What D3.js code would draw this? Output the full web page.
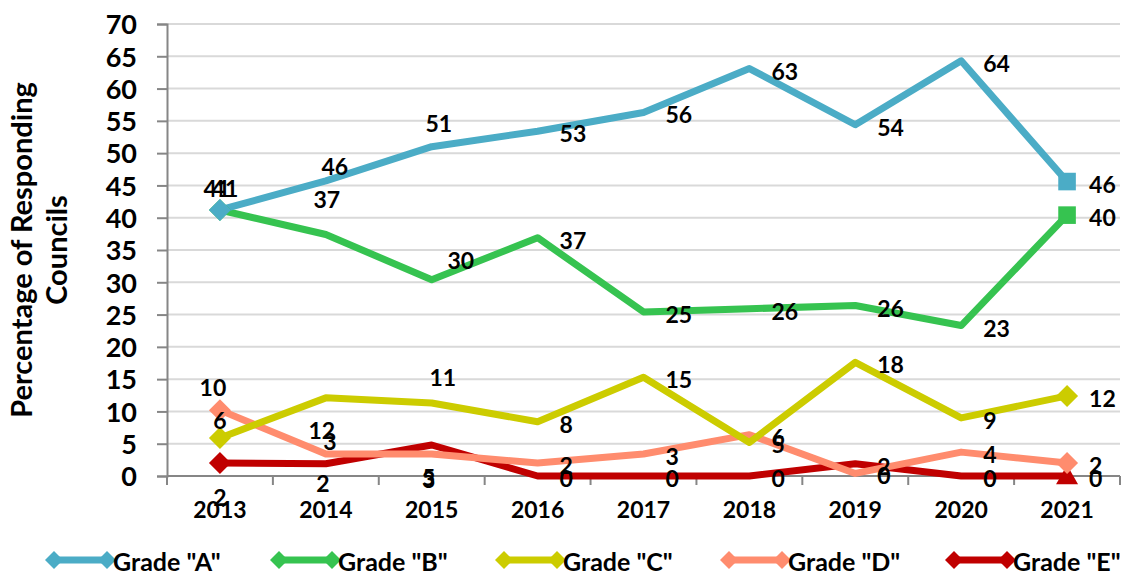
<!DOCTYPE html>
<html>
<head>
<meta charset="utf-8">
<script src="https://cdn.jsdelivr.net/npm/d3@7"></script>
<style>
  body { margin: 0; background: #fff; }
  text { font-family: Lato, "Open Sans", sans-serif; font-weight: bold; fill: #000; }
</style>
</head>
<body>
<svg id="chart" width="1123" height="571"></svg>
<script>
// categories and values
var years = ["2013", "2014", "2015", "2016", "2017", "2018", "2019", "2020", "2021"];
var gradeA = [41.2, 45.7, 51.0, 53.4, 56.3, 63.1, 54.4, 64.3, 45.6];
var gradeB = [41.2, 37.4, 30.4, 36.9, 25.4, 25.9, 26.4, 23.3, 40.4];
var gradeC = [5.9, 12.1, 11.3, 8.4, 15.3, 5.2, 17.6, 9.0, 12.4];
var gradeD = [10.2, 3.4, 3.4, 2.0, 3.4, 6.4, 0.4, 3.7, 2.0];
var gradeE = [2.0, 1.9, 4.8, 0, 0, 0, 1.9, 0, 0];
var yTicks = [0, 5, 10, 15, 20, 25, 30, 35, 40, 45, 50, 55, 60, 65, 70];

var series = [
    { name: 'Grade "A"', values: gradeA, color: "#4bacc6", end: "square" },
    { name: 'Grade "B"', values: gradeB, color: "#36c350", end: "square" },
    { name: 'Grade "C"', values: gradeC, color: "#cccc00", end: "diamond" },
    { name: 'Grade "D"', values: gradeD, color: "#ff8c6e", end: "diamond" },
    { name: 'Grade "E"', values: gradeE, color: "#c00000", end: "triangle" }
];

// hand placed labels (centre offset from point), the rest sit on the right
var labelNudge = [
    { 0: [-3, -22], 1: [9, -15], 2: [7, -24] },
    { 0: [5, -22], 1: [1, -36], 2: [29, -20] },
    { 0: [0, -18], 1: [-4, 32], 2: [11, -26] },
    { 0: [-7, -23], 1: [4, -13], 2: [-3, 25] },
    { 0: [0, 34], 1: [-3, 19], 2: [-3, 32] }
];

var svg = d3.select("#chart");
var plotL = 167, plotR = 1120, plotT = 24, plotB = 476;

var x = d3.scaleBand().domain(years).range([plotL, plotR]);
var y = d3.scaleLinear().domain([0, 70]).range([plotB, plotT]);
var cx = function (d, i) { return x(years[i]) + x.bandwidth() / 2; };

// grid
svg.append("g")
    .selectAll("line")
    .data(yTicks.slice(1))
    .join("line")
    .attr("x1", plotL).attr("x2", plotR)
    .attr("y1", function (d) { return y(d); })
    .attr("y2", function (d) { return y(d); })
    .attr("stroke", "#d9d9d9")
    .attr("stroke-width", 2);

// y axis
var yAxis = svg.append("g")
    .attr("transform", "translate(" + plotL + ",0)")
    .call(d3.axisLeft(y).tickValues(yTicks).tickSize(10).tickPadding(20));
yAxis.selectAll("text").style("font-size", "27px").attr("dy", "0.36em");

// x axis
var xAxis = svg.append("g")
    .attr("transform", "translate(0," + plotB + ")")
    .call(d3.axisBottom(x).tickSize(0).tickPadding(26));
xAxis.selectAll("text").style("font-size", "23px");
xAxis.append("g")
    .selectAll("line")
    .data(d3.range(years.length + 1))
    .join("line")
    .attr("x1", function (i) { return plotL + i * x.bandwidth(); })
    .attr("x2", function (i) { return plotL + i * x.bandwidth(); })
    .attr("y1", 0).attr("y2", 9)
    .attr("stroke", "#868686").attr("stroke-width", 2);

[yAxis, xAxis].forEach(function (g) {
    g.select(".domain").attr("stroke", "#868686").attr("stroke-width", 2);
    g.selectAll(".tick line").attr("stroke", "#868686").attr("stroke-width", 2);
});
xAxis.select(".domain").attr("d", "M" + plotL + ",0H" + plotR);

// axis title
var title = svg.append("text")
    .attr("transform", "translate(44,250) rotate(-90)")
    .attr("text-anchor", "middle")
    .style("font-size", "29px");
title.append("tspan").attr("x", 0).attr("dy", "-0.4em").text("Percentage of Responding");
title.append("tspan").attr("x", 0).attr("dy", "1.2em").text("Councils");

function marker(type, r) {
    if (type === "square") return "M" + (-r * 0.8) + "," + (-r * 0.8) + "h" + (r * 1.6) + "v" + (r * 1.6) + "h" + (-r * 1.6) + "Z";
    if (type === "triangle") return "M0," + (-r) + "L" + r + "," + (r * 0.75) + "L" + (-r) + "," + (r * 0.75) + "Z";
    return "M0," + (-r) + "L" + r + ",0L0," + r + "L" + (-r) + ",0Z";
}

var line = d3.line()
    .x(cx)
    .y(function (d) { return y(d); });

// lines back to front (E under A)
var order = [4, 3, 2, 1, 0];
order.forEach(function (k) {
    var s = series[k];
    svg.append("path")
        .datum(s.values)
        .attr("fill", "none")
        .attr("stroke", s.color)
        .attr("stroke-width", 7)
        .attr("stroke-linejoin", "round")
        .attr("d", line);
});
order.forEach(function (k) {
    var s = series[k];
    var n = s.values.length - 1;
    svg.append("path")
        .attr("d", marker("diamond", 11))
        .attr("transform", "translate(" + cx(0, 0) + "," + y(s.values[0]) + ")")
        .attr("fill", s.color);
    svg.append("path")
        .attr("d", marker(s.end, 11))
        .attr("transform", "translate(" + cx(0, n) + "," + y(s.values[n]) + ")")
        .attr("fill", s.color);
});

// data labels
series.forEach(function (s, k) {
    svg.append("g")
        .selectAll("text")
        .data(s.values)
        .join("text")
        .style("font-size", "23px")
        .attr("dominant-baseline", "central")
        .each(function (d, i) {
            var t = d3.select(this);
            var nudge = labelNudge[k][i];
            if (nudge) {
                t.attr("text-anchor", "middle")
                    .attr("x", cx(d, i) + nudge[0])
                    .attr("y", y(d) + nudge[1]);
            } else {
                t.attr("text-anchor", "start")
                    .attr("x", cx(d, i) + 22)
                    .attr("y", y(d) + 2);
            }
        })
        .text(function (d) { return Math.round(d); });
});

// legend
var legend = svg.append("g").attr("transform", "translate(45,560)");
series.forEach(function (s, k) {
    var g = legend.append("g").attr("transform", "translate(" + k * 225 + ",0)");
    g.append("line").attr("x1", 9).attr("x2", 62).attr("stroke", s.color).attr("stroke-width", 7);
    g.append("path").attr("d", marker("diamond", 9)).attr("transform", "translate(9,0)").attr("fill", s.color);
    g.append("path").attr("d", marker("diamond", 9)).attr("transform", "translate(62,0)").attr("fill", s.color);
    g.append("text").attr("x", 68).attr("dominant-baseline", "central").attr("dy", 1)
        .style("font-size", "25px").text(s.name);
});
</script>
</body>
</html>
